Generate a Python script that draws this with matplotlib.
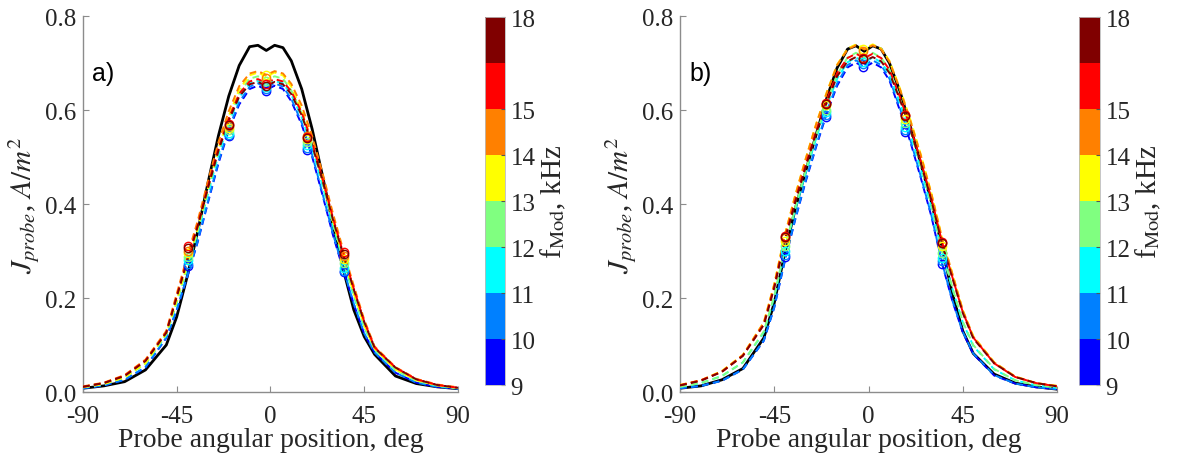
import matplotlib
matplotlib.use('Agg')
import matplotlib.pyplot as plt
from matplotlib.colors import ListedColormap, BoundaryNorm
from matplotlib.cm import ScalarMappable

plt.rcParams['font.family'] = ['Liberation Serif', 'DejaVu Serif']
plt.rcParams['mathtext.fontset'] = 'stix'
plt.rcParams['axes.unicode_minus'] = False

# probe angle, deg
x_deg = [-90, -80, -70, -60, -50, -45, -40, -35, -30, -25, -20, -15, -10, -6, -2,
         2, 6, 10, 15, 20, 25, 30, 35, 40, 45, 50, 60, 70, 80, 90]

# modulation frequencies, kHz (colorbar)
f_labels = ['9', '10', '11', '12', '13', '14', '15', '18']
f_ticks = [0, 1, 2, 3, 4, 5, 6, 8]

# ---- panel a) ----
black_a = [0.008, 0.013, 0.022, 0.047, 0.100, 0.160, 0.245, 0.340, 0.445, 0.545, 0.630, 0.695, 0.735, 0.738, 0.727,
           0.738, 0.733, 0.705, 0.645, 0.560, 0.460, 0.355, 0.260, 0.175, 0.118, 0.080, 0.034, 0.018, 0.011, 0.007]
blue_a = [0.008, 0.014, 0.026, 0.052, 0.115, 0.174, 0.244, 0.318, 0.403, 0.486, 0.557, 0.612, 0.645, 0.652, 0.643,
          0.652, 0.645, 0.619, 0.569, 0.501, 0.419, 0.334, 0.259, 0.187, 0.124, 0.084, 0.041, 0.020, 0.011, 0.007]
dodger_a = [0.008, 0.014, 0.026, 0.053, 0.116, 0.175, 0.246, 0.320, 0.406, 0.490, 0.561, 0.617, 0.650, 0.657, 0.648,
            0.657, 0.650, 0.624, 0.573, 0.505, 0.422, 0.337, 0.261, 0.188, 0.125, 0.084, 0.041, 0.020, 0.011, 0.007]
cyan_a = [0.010, 0.017, 0.031, 0.060, 0.121, 0.190, 0.264, 0.337, 0.422, 0.504, 0.573, 0.627, 0.657, 0.662, 0.654,
          0.662, 0.657, 0.633, 0.585, 0.519, 0.439, 0.354, 0.278, 0.204, 0.138, 0.090, 0.047, 0.024, 0.013, 0.008]
green_a = [0.010, 0.017, 0.031, 0.061, 0.123, 0.192, 0.268, 0.343, 0.429, 0.512, 0.582, 0.636, 0.667, 0.672, 0.664,
           0.672, 0.667, 0.642, 0.593, 0.527, 0.446, 0.359, 0.282, 0.208, 0.140, 0.091, 0.047, 0.024, 0.014, 0.008]
yellow_a = [0.010, 0.017, 0.031, 0.061, 0.125, 0.195, 0.271, 0.347, 0.434, 0.518, 0.588, 0.644, 0.674, 0.680, 0.672,
            0.680, 0.674, 0.650, 0.600, 0.533, 0.451, 0.364, 0.285, 0.210, 0.142, 0.092, 0.048, 0.025, 0.014, 0.008]
orange_a = [0.012, 0.020, 0.036, 0.069, 0.130, 0.209, 0.288, 0.363, 0.449, 0.531, 0.598, 0.651, 0.678, 0.683, 0.675,
            0.683, 0.678, 0.656, 0.610, 0.545, 0.466, 0.380, 0.301, 0.226, 0.154, 0.097, 0.053, 0.028, 0.016, 0.010]
red_a = [0.011, 0.019, 0.035, 0.067, 0.127, 0.204, 0.281, 0.354, 0.438, 0.518, 0.583, 0.635, 0.661, 0.666, 0.658,
         0.666, 0.661, 0.640, 0.595, 0.531, 0.454, 0.371, 0.294, 0.220, 0.150, 0.095, 0.052, 0.027, 0.015, 0.009]
darkred_a = [0.011, 0.019, 0.034, 0.066, 0.126, 0.202, 0.278, 0.351, 0.434, 0.513, 0.578, 0.629, 0.655, 0.660, 0.652,
             0.660, 0.655, 0.634, 0.589, 0.526, 0.450, 0.367, 0.291, 0.218, 0.149, 0.094, 0.052, 0.027, 0.015, 0.009]

probe_x_a = [-39.5, -20, -2, 17.5, 35.5]
pts_a = [
    [0.268, 0.545, 0.640, 0.515, 0.255],
    [0.272, 0.548, 0.645, 0.520, 0.258],
    [0.280, 0.552, 0.650, 0.525, 0.265],
    [0.288, 0.558, 0.662, 0.532, 0.275],
    [0.295, 0.562, 0.675, 0.538, 0.283],
    [0.300, 0.566, 0.668, 0.545, 0.290],
    [0.310, 0.570, 0.655, 0.542, 0.297],
    [0.306, 0.568, 0.652, 0.540, 0.294],
]

# ---- panel b) ----
black_b = [0.008, 0.013, 0.026, 0.050, 0.115, 0.190, 0.295, 0.390, 0.470, 0.548, 0.625, 0.690, 0.730, 0.737, 0.725,
           0.737, 0.730, 0.700, 0.640, 0.565, 0.485, 0.405, 0.310, 0.210, 0.130, 0.082, 0.038, 0.019, 0.011, 0.006]
blue_b = [0.008, 0.013, 0.024, 0.048, 0.109, 0.180, 0.278, 0.367, 0.448, 0.522, 0.592, 0.652, 0.691, 0.701, 0.691,
          0.701, 0.691, 0.663, 0.599, 0.532, 0.455, 0.374, 0.275, 0.194, 0.127, 0.081, 0.035, 0.018, 0.010, 0.006]
dodger_b = [0.008, 0.013, 0.024, 0.048, 0.110, 0.181, 0.280, 0.369, 0.451, 0.525, 0.596, 0.657, 0.696, 0.706, 0.696,
            0.706, 0.696, 0.667, 0.604, 0.536, 0.458, 0.376, 0.277, 0.195, 0.128, 0.082, 0.036, 0.018, 0.010, 0.006]
cyan_b = [0.011, 0.019, 0.034, 0.063, 0.127, 0.202, 0.302, 0.388, 0.467, 0.540, 0.608, 0.667, 0.702, 0.712, 0.702,
          0.712, 0.702, 0.676, 0.615, 0.549, 0.474, 0.393, 0.299, 0.220, 0.148, 0.098, 0.048, 0.025, 0.014, 0.009]
green_b = [0.011, 0.019, 0.034, 0.063, 0.129, 0.205, 0.306, 0.393, 0.473, 0.547, 0.616, 0.676, 0.712, 0.722, 0.712,
           0.722, 0.712, 0.685, 0.624, 0.556, 0.480, 0.399, 0.303, 0.223, 0.150, 0.100, 0.049, 0.025, 0.015, 0.009]
yellow_b = [0.015, 0.025, 0.045, 0.079, 0.148, 0.230, 0.334, 0.419, 0.497, 0.571, 0.638, 0.697, 0.731, 0.740, 0.731,
            0.740, 0.731, 0.705, 0.646, 0.579, 0.505, 0.423, 0.330, 0.252, 0.174, 0.119, 0.063, 0.033, 0.019, 0.013]
orange_b = [0.015, 0.025, 0.044, 0.079, 0.148, 0.229, 0.333, 0.418, 0.496, 0.570, 0.636, 0.696, 0.729, 0.738, 0.729,
            0.738, 0.729, 0.703, 0.644, 0.577, 0.503, 0.422, 0.329, 0.252, 0.174, 0.118, 0.063, 0.033, 0.019, 0.013]
red_b = [0.014, 0.025, 0.043, 0.077, 0.144, 0.224, 0.325, 0.408, 0.484, 0.556, 0.621, 0.679, 0.711, 0.720, 0.711,
         0.720, 0.711, 0.686, 0.628, 0.563, 0.491, 0.412, 0.321, 0.245, 0.170, 0.116, 0.061, 0.032, 0.019, 0.012]
darkred_b = [0.014, 0.024, 0.043, 0.077, 0.143, 0.222, 0.322, 0.404, 0.479, 0.551, 0.615, 0.672, 0.704, 0.713, 0.704,
             0.713, 0.704, 0.679, 0.622, 0.558, 0.486, 0.408, 0.318, 0.243, 0.168, 0.114, 0.061, 0.032, 0.019, 0.012]

probe_x_b = [-40, -20.5, -2.5, 17.5, 35]
pts_b = [
    [0.287, 0.585, 0.692, 0.553, 0.272],
    [0.292, 0.590, 0.698, 0.558, 0.278],
    [0.300, 0.595, 0.703, 0.565, 0.285],
    [0.310, 0.600, 0.712, 0.572, 0.295],
    [0.322, 0.610, 0.730, 0.582, 0.310],
    [0.328, 0.612, 0.725, 0.590, 0.318],
    [0.332, 0.615, 0.712, 0.590, 0.320],
    [0.330, 0.613, 0.708, 0.588, 0.318],
]

curves_a = [blue_a, dodger_a, cyan_a, green_a, yellow_a, orange_a, red_a, darkred_a]
curves_b = [blue_b, dodger_b, cyan_b, green_b, yellow_b, orange_b, red_b, darkred_b]

jet8 = ['#0000ff', '#0080ff', '#00ffff', '#80ff80', '#ffff00', '#ff8000', '#ff0000', '#800000']
axis_grey = '#8c8c8c'
text_col = '#262626'


def draw_panel(ax, black, curves, px, pts, tag):
    ax.plot(x_deg, black, color='k', lw=2.0, zorder=2)
    for c, ys, ps in zip(jet8, curves, pts):
        ax.plot(x_deg, ys, color=c, lw=1.4, ls=(0, (3.5, 2.2)), zorder=3)
        ax.plot(px, ps, ls='none', marker='o', ms=6, mfc='none', mec=c, mew=1.0, zorder=4)
    ax.set_xlim(-90, 90)
    ax.set_ylim(0, 0.8)
    ax.set_xticks([-90, -45, 0, 45, 90])
    ax.set_yticks([0, 0.2, 0.4, 0.6, 0.8])
    ax.set_yticklabels(['0.0', '0.2', '0.4', '0.6', '0.8'])
    for s in ['top', 'right']:
        ax.spines[s].set_visible(False)
    for s in ['left', 'bottom']:
        ax.spines[s].set_color(axis_grey)
        ax.spines[s].set_linewidth(1.0)
    ax.tick_params(direction='in', length=4, color=axis_grey, labelsize=18,
                   labelcolor=text_col)
    ax.tick_params(axis='x', pad=9)
    ax.tick_params(axis='y', pad=5)
    ax.set_xlabel('Probe angular position, deg', fontsize=20, color=text_col, labelpad=0)
    ax.set_ylabel(r'$J_{probe}$, $A/m^2$', fontsize=21, color=text_col, labelpad=2)
    ax.text(0.025, 0.85, tag, transform=ax.transAxes, fontsize=18,
            family='Liberation Sans', ha='left', va='center')


def draw_cbar(fig, rect):
    cax = fig.add_axes(rect)
    cmap = ListedColormap(jet8)
    norm = BoundaryNorm(list(range(9)), cmap.N)
    cb = fig.colorbar(ScalarMappable(norm=norm, cmap=cmap), cax=cax, ticks=f_ticks)
    cb.minorticks_off()
    cb.ax.set_yticklabels(f_labels)
    cb.ax.tick_params(direction='in', length=3, color='#555555', labelsize=18,
                      labelcolor=text_col, pad=4)
    cb.outline.set_edgecolor('#bbbbbb')
    cb.outline.set_linewidth(0.6)
    cb.set_label(r'f$_{\mathrm{Mod}}$, kHz', fontsize=21, color=text_col, labelpad=2)
    return cb


fig = plt.figure(figsize=(11.8, 4.64), dpi=100)
ax_a = fig.add_axes([0.0703, 0.153, 0.3178, 0.810])
ax_b = fig.add_axes([0.5763, 0.153, 0.3195, 0.810])

draw_panel(ax_a, black_a, curves_a, probe_x_a, pts_a, 'a)')
draw_panel(ax_b, black_b, curves_b, probe_x_b, pts_b, 'b)')

draw_cbar(fig, [0.411, 0.168, 0.017, 0.793])
draw_cbar(fig, [0.9144, 0.168, 0.0178, 0.793])

fig.savefig('out.png', dpi=100)
